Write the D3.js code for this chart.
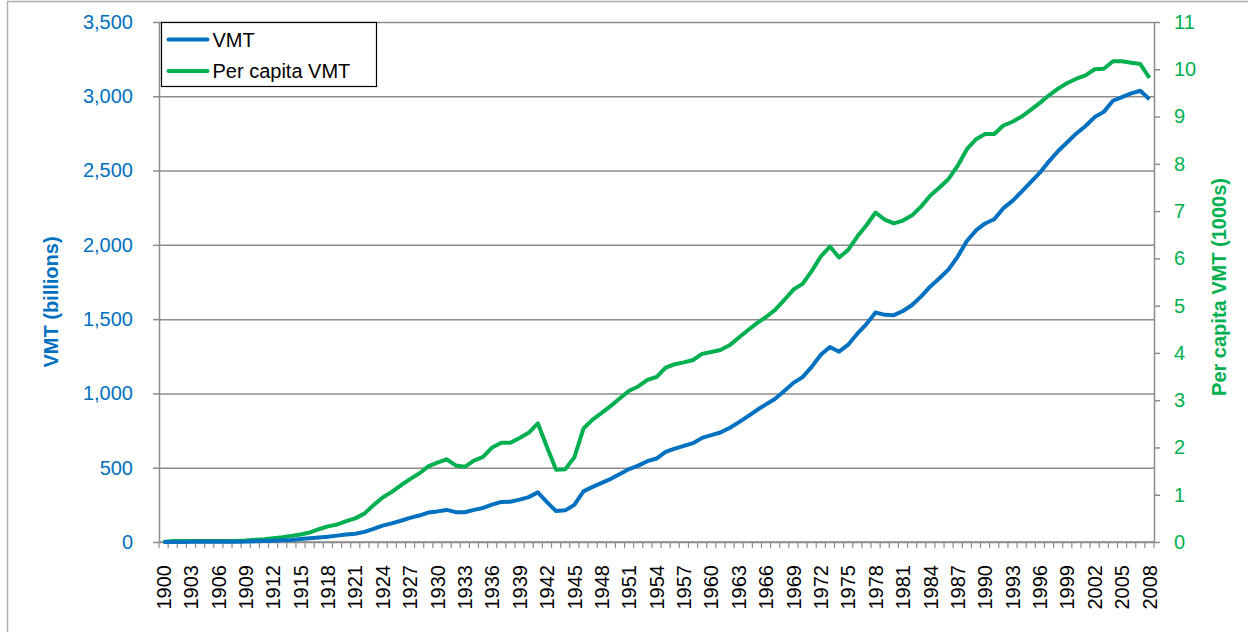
<!DOCTYPE html>
<html>
<head>
<meta charset="utf-8">
<script src="https://cdn.jsdelivr.net/npm/d3@7"></script>
<style>
  body { margin: 0; background: #fff; }
  svg { font-family: "Liberation Sans", Arial, sans-serif; }
</style>
</head>
<body>
<div id="chart"></div>
<script>
// years 1900..2008
var years = d3.range(1900, 2009);

// VMT, billions
var vmt = [
  0.1, 0.5, 0.8, 1, 1.2, 1.5, 1.8, 2, 2.4, 3,
  5, 6, 8, 11, 14, 20, 25, 30, 35, 43,
  50, 56, 68, 88, 110, 125, 143, 162, 178, 198,
  206, 216, 201, 200, 216, 229, 252, 270, 271, 285,
  302, 334, 268, 208, 213, 250, 341, 371, 398, 425,
  458, 491, 514, 544, 562, 606, 628, 647, 665, 701,
  719, 737, 767, 805, 846, 888, 926, 964, 1016, 1071,
  1110, 1179, 1260, 1313, 1281, 1328, 1402, 1467, 1545, 1529,
  1527, 1555, 1595, 1653, 1720, 1775, 1835, 1921, 2026, 2097,
  2144, 2172, 2247, 2296, 2358, 2423, 2486, 2562, 2632, 2691,
  2750, 2800, 2860, 2895, 2970, 2995, 3020, 3037, 2980
];

// per capita VMT, thousands of miles
var perCapita = [
  0.00, 0.02, 0.02, 0.02, 0.02, 0.02, 0.02, 0.02, 0.02, 0.03,
  0.05, 0.06, 0.08, 0.10, 0.13, 0.16, 0.20, 0.27, 0.33, 0.37,
  0.44, 0.50, 0.60, 0.78, 0.94, 1.06, 1.20, 1.33, 1.45, 1.60,
  1.68, 1.75, 1.62, 1.59, 1.72, 1.80, 2.00, 2.10, 2.10, 2.20,
  2.31, 2.51, 2.01, 1.53, 1.54, 1.79, 2.40, 2.59, 2.73, 2.88,
  3.04, 3.20, 3.29, 3.43, 3.49, 3.69, 3.76, 3.80, 3.85, 3.98,
  4.02, 4.06, 4.16, 4.32, 4.48, 4.63, 4.76, 4.91, 5.12, 5.34,
  5.46, 5.73, 6.04, 6.25, 6.02, 6.18, 6.46, 6.70, 6.97, 6.82,
  6.74, 6.80, 6.91, 7.10, 7.33, 7.50, 7.68, 7.96, 8.31, 8.52,
  8.63, 8.63, 8.81, 8.89, 9.00, 9.14, 9.29, 9.45, 9.59, 9.71,
  9.80, 9.87, 10.00, 10.01, 10.17, 10.17, 10.14, 10.11, 9.82
];

var leftTicks = d3.range(0, 3501, 500);
var rightTicks = d3.range(0, 12, 1);
var labelYears = years.filter(function (d) { return (d - 1900) % 3 === 0; });

var blue = "#0070C0",
    green = "#00B050",
    gridGray = "#8c8c8c";

var W = 1248, H = 632;
var margin = { top: 22, right: 94, bottom: 90, left: 159 },
    width = W - margin.left - margin.right,
    height = H - margin.top - margin.bottom;

var svg = d3.select("#chart").append("svg")
  .attr("width", W)
  .attr("height", H);

// outer chart border
svg.append("rect")
  .attr("x", 7.5).attr("y", 1.5)
  .attr("width", W + 20).attr("height", H + 20)
  .attr("fill", "none")
  .attr("stroke", "#b0b0b0")
  .attr("stroke-width", 1.5);

var g = svg.append("g")
  .attr("transform", "translate(" + margin.left + "," + margin.top + ")");

var x = d3.scaleBand()
  .domain(years)
  .range([0, width])
  .padding(0);

var yL = d3.scaleLinear().domain([0, 3500]).range([height, 0]);
var yR = d3.scaleLinear().domain([0, 11]).range([height, 0]);

var cx = function (i) { return x(years[i]) + x.bandwidth() / 2; };

// gridlines
g.append("g")
  .call(d3.axisLeft(yL).tickValues(leftTicks).tickSize(-width).tickFormat(""))
  .call(function (g) { g.select(".domain").remove(); })
  .call(function (g) {
    g.selectAll("line").attr("stroke", gridGray).attr("stroke-width", 1.5);
  });

// left axis
g.append("g")
  .call(d3.axisLeft(yL).tickValues(leftTicks).tickSize(6).tickSizeOuter(0).tickPadding(20)
    .tickFormat(d3.format(",")))
  .call(function (g) {
    g.select(".domain").attr("stroke", gridGray).attr("stroke-width", 1.5);
    g.selectAll("line").attr("stroke", gridGray).attr("stroke-width", 1.5);
    g.selectAll("text").attr("fill", blue).style("font-size", "20px");
  });

// right axis
g.append("g")
  .attr("transform", "translate(" + width + ",0)")
  .call(d3.axisRight(yR).tickValues(rightTicks).tickSize(6).tickSizeOuter(0).tickPadding(14))
  .call(function (g) {
    g.select(".domain").attr("stroke", gridGray).attr("stroke-width", 1.5);
    g.selectAll("line").attr("stroke", gridGray).attr("stroke-width", 1.5);
    g.selectAll("text").attr("fill", green).style("font-size", "20px");
  });

// bottom axis: labels every 3 years
g.append("g")
  .attr("transform", "translate(0," + height + ")")
  .call(d3.axisBottom(x).tickValues(labelYears).tickSize(0).tickPadding(0))
  .call(function (g) { g.select(".domain").remove(); })
  .call(function (g) {
    g.selectAll("text")
      .attr("fill", "#000")
      .style("font-size", "20px")
      .style("text-anchor", "end")
      .attr("dy", "0.36em")
      .attr("x", -23)
      .attr("y", 0)
      .attr("transform", "rotate(-90)");
  });

// bottom axis line and category ticks
var bx = g.append("g").attr("transform", "translate(0," + height + ")");
bx.append("line")
  .attr("x1", 0).attr("x2", width)
  .attr("stroke", gridGray).attr("stroke-width", 1.5);
bx.selectAll(".ctick")
  .data(years.concat([null]))
  .join("line")
  .attr("class", "ctick")
  .attr("x1", function (d) { return d === null ? width : x(d); })
  .attr("x2", function (d) { return d === null ? width : x(d); })
  .attr("y1", 0).attr("y2", 6)
  .attr("stroke", gridGray).attr("stroke-width", 1.2);

// lines
var lineL = d3.line()
  .x(function (d, i) { return cx(i); })
  .y(function (d) { return yL(d); });
var lineR = d3.line()
  .x(function (d, i) { return cx(i); })
  .y(function (d) { return yR(d); });

g.append("path")
  .datum(perCapita)
  .attr("fill", "none")
  .attr("stroke", green)
  .attr("stroke-width", 4)
  .attr("stroke-linejoin", "round")
  .attr("d", lineR);

g.append("path")
  .datum(vmt)
  .attr("fill", "none")
  .attr("stroke", blue)
  .attr("stroke-width", 4)
  .attr("stroke-linejoin", "round")
  .attr("d", lineL);

// axis titles
svg.append("text")
  .attr("transform", "translate(58,302) rotate(-90)")
  .attr("text-anchor", "middle")
  .attr("fill", blue)
  .style("font-size", "20px")
  .style("font-weight", "bold")
  .text("VMT (billions)");

svg.append("text")
  .attr("transform", "translate(1226,287) rotate(-90)")
  .attr("text-anchor", "middle")
  .attr("fill", green)
  .style("font-size", "20px")
  .style("font-weight", "bold")
  .text("Per capita VMT (1000s)");

// legend
var legendItems = [
  { name: "VMT", color: blue },
  { name: "Per capita VMT", color: green }
];
var lg = svg.append("g").attr("transform", "translate(161.5,22.5)");
lg.append("rect")
  .attr("width", 215).attr("height", 64)
  .attr("fill", "#fff")
  .attr("stroke", "#000")
  .attr("stroke-width", 1.2);
var li = lg.selectAll(".item")
  .data(legendItems)
  .join("g")
  .attr("class", "item")
  .attr("transform", function (d, i) { return "translate(0," + (17 + i * 31.5) + ")"; });
li.append("line")
  .attr("x1", 7).attr("x2", 46)
  .attr("stroke", function (d) { return d.color; })
  .attr("stroke-width", 4)
  .attr("stroke-linecap", "round");
li.append("text")
  .attr("x", 51)
  .attr("dy", "0.36em")
  .attr("fill", "#000")
  .style("font-size", "20px")
  .text(function (d) { return d.name; });
</script>
</body>
</html>
